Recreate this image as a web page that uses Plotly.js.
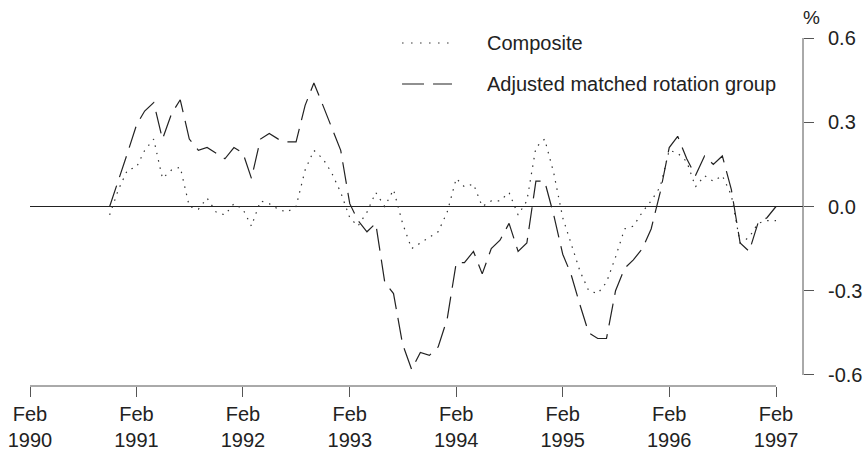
<!DOCTYPE html>
<html>
<head>
<meta charset="utf-8">
<script src="https://cdn.plot.ly/plotly-3.0.1.min.js"></script>
<style>html,body{margin:0;padding:0;background:#fff;}#chart{width:863px;height:452px;}</style>
</head>
<body>
<div id="chart"></div>
<script>
// Monthly observations, Nov 1990 - Feb 1997
var months = [
 "1990-11-01","1990-12-01",
 "1991-01-01","1991-02-01","1991-03-01","1991-04-01","1991-05-01","1991-06-01","1991-07-01","1991-08-01","1991-09-01","1991-10-01","1991-11-01","1991-12-01",
 "1992-01-01","1992-02-01","1992-03-01","1992-04-01","1992-05-01","1992-06-01","1992-07-01","1992-08-01","1992-09-01","1992-10-01","1992-11-01","1992-12-01",
 "1993-01-01","1993-02-01","1993-03-01","1993-04-01","1993-05-01","1993-06-01","1993-07-01","1993-08-01","1993-09-01","1993-10-01","1993-11-01","1993-12-01",
 "1994-01-01","1994-02-01","1994-03-01","1994-04-01","1994-05-01","1994-06-01","1994-07-01","1994-08-01","1994-09-01","1994-10-01","1994-11-01","1994-12-01",
 "1995-01-01","1995-02-01","1995-03-01","1995-04-01","1995-05-01","1995-06-01","1995-07-01","1995-08-01","1995-09-01","1995-10-01","1995-11-01","1995-12-01",
 "1996-01-01","1996-02-01","1996-03-01","1996-04-01","1996-05-01","1996-06-01","1996-07-01","1996-08-01","1996-09-01","1996-10-01","1996-11-01","1996-12-01",
 "1997-01-01","1997-02-01"
];

var composite = [
 -0.03, 0.06,
 0.13, 0.14, 0.20, 0.24, 0.10, 0.13, 0.14, 0.00, -0.01, 0.03, -0.02, -0.03,
 0.01, -0.01, -0.07, 0.02, 0.01, -0.01, -0.02, 0.00, 0.13, 0.20, 0.17, 0.12,
 0.05, -0.04, -0.07, -0.02, 0.05, 0.00, 0.06, -0.06, -0.15, -0.13, -0.11, -0.09,
 -0.02, 0.10, 0.07, 0.08, 0.00, 0.02, 0.02, 0.05, -0.03, 0.02, 0.21, 0.24,
 0.12, -0.04, -0.13, -0.23, -0.30, -0.31, -0.27, -0.18, -0.08, -0.07, -0.02, 0.02,
 0.07, 0.20, 0.19, 0.16, 0.07, 0.11, 0.09, 0.11, 0.04, -0.13, -0.11, -0.06,
 -0.05, -0.05
];

var adjusted = [
 0.00, 0.09,
 0.19, 0.29, 0.34, 0.37, 0.24, 0.33, 0.38, 0.24, 0.20, 0.21, 0.19, 0.17,
 0.21, 0.19, 0.10, 0.24, 0.26, 0.24, 0.23, 0.23, 0.36, 0.44, 0.36, 0.28,
 0.20, 0.01, -0.05, -0.09, -0.06, -0.27, -0.31, -0.49, -0.58, -0.52, -0.53, -0.50,
 -0.40, -0.20, -0.20, -0.16, -0.24, -0.15, -0.12, -0.06, -0.16, -0.13, 0.09, 0.09,
 -0.03, -0.17, -0.24, -0.35, -0.45, -0.47, -0.47, -0.30, -0.22, -0.19, -0.15, -0.08,
 0.05, 0.21, 0.25, 0.17, 0.11, 0.18, 0.15, 0.18, 0.06, -0.13, -0.16, -0.06,
 -0.04, 0.00
];

var seriesNames = ["Composite", "Adjusted matched rotation group"];
var xTickVals = ["1990-02-01","1991-02-01","1992-02-01","1993-02-01","1994-02-01","1995-02-01","1996-02-01","1997-02-01"];
var xTickText = ["Feb<br>1990","Feb<br>1991","Feb<br>1992","Feb<br>1993","Feb<br>1994","Feb<br>1995","Feb<br>1996","Feb<br>1997"];
var yTickVals = [-0.6, -0.3, 0.0, 0.3, 0.6];
var yTickText = ["-0.6", "-0.3", "0.0", "0.3", "0.6"];

var FONT = "'Liberation Sans', Arial, Helvetica, sans-serif";
var INK = "#222";
var AXIS = "#555";
var dotDash = "1.5px,6px";
var longDash = "22px,9px";

var traces = [
 {x: months, y: composite, name: seriesNames[0], type: "scatter", mode: "lines",
  line: {color: "#333", width: 1.2, dash: dotDash}, showlegend: false, hoverinfo: "x+y"},
 {x: months, y: adjusted, name: seriesNames[1], type: "scatter", mode: "lines",
  line: {color: "#222", width: 1.2, dash: longDash}, showlegend: false, hoverinfo: "x+y"}
];

var shapes = [
 // x axis line, spanning Feb 1990 - Feb 1997
 {type: "line", xref: "x", yref: "paper", x0: xTickVals[0], x1: xTickVals[xTickVals.length-1], y0: 0, y1: 0,
  line: {color: AXIS, width: 1}},
 // y axis line, spanning -0.6 .. 0.6
 {type: "line", xref: "paper", yref: "y", x0: 1, x1: 1, y0: yTickVals[0], y1: yTickVals[yTickVals.length-1],
  line: {color: AXIS, width: 1}},
 // legend samples
 {type: "line", xref: "paper", yref: "paper", x0: 0.4813, x1: 0.5459, y0: 0.9856, y1: 0.9856,
  line: {color: "#333", width: 1.2, dash: "1.5px,7.5px"}},
 {type: "line", xref: "paper", yref: "paper", x0: 0.4813, x1: 0.5459, y0: 0.8678, y1: 0.8678,
  line: {color: "#222", width: 1.2, dash: longDash}}
];

var annotations = [
 {xref: "paper", yref: "paper", x: 0.5886, y: 0.9856, xanchor: "left", yanchor: "middle",
  text: seriesNames[0], showarrow: false, font: {family: FONT, size: 20, color: INK}},
 {xref: "paper", yref: "paper", x: 0.5886, y: 0.8678, xanchor: "left", yanchor: "middle",
  text: seriesNames[1], showarrow: false, font: {family: FONT, size: 20, color: INK}},
 {xref: "paper", yref: "paper", x: 1.0116, y: 1.060, xanchor: "center", yanchor: "middle",
  text: "%", showarrow: false, font: {family: FONT, size: 19, color: INK}}
];

var layout = {
 width: 863, height: 452,
 margin: {l: 30, r: 60, t: 38, b: 66, pad: 0},
 paper_bgcolor: "#fff", plot_bgcolor: "#fff",
 font: {family: FONT, size: 20, color: INK},
 showlegend: false,
 xaxis: {
  type: "date", range: ["1990-02-01", "1997-05-04 12:00"],
  showgrid: false, zeroline: false, showline: false,
  ticks: "outside", ticklen: 10, tickwidth: 1, tickcolor: AXIS,
  tickmode: "array", tickvals: xTickVals, ticktext: xTickText,
  tickfont: {family: FONT, size: 20, color: INK}, fixedrange: true
 },
 yaxis: {
  side: "right", range: [-0.6392, 0.6],
  showgrid: false, showline: false,
  zeroline: true, zerolinecolor: "#222", zerolinewidth: 1.5,
  ticks: "outside", ticklen: 10, tickwidth: 1, tickcolor: AXIS,
  tickmode: "array", tickvals: yTickVals, ticktext: yTickText,
  ticklabelstandoff: 10,
  tickfont: {family: FONT, size: 20, color: INK}, fixedrange: true
 },
 shapes: shapes,
 annotations: annotations
};

Plotly.newPlot("chart", traces, layout, {displayModeBar: false, staticPlot: true});
</script>
</body>
</html>
